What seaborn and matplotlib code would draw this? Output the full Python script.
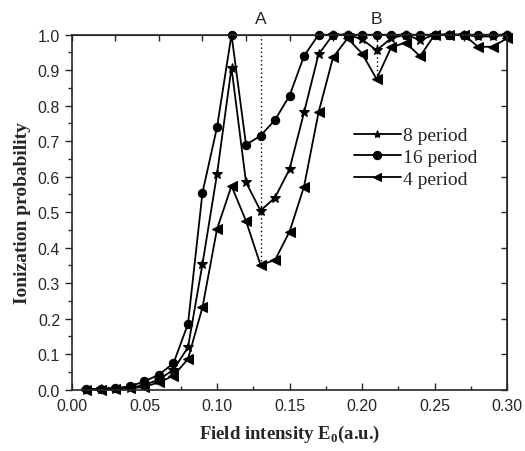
import numpy as np
import pandas as pd
import matplotlib
matplotlib.use("Agg")
import matplotlib.pyplot as plt
import seaborn as sns

# field intensity E0 (a.u.)
field = [0.01, 0.02, 0.03, 0.04, 0.05, 0.06, 0.07, 0.08, 0.09, 0.10,
         0.11, 0.12, 0.13, 0.14, 0.15, 0.16, 0.17, 0.18, 0.19, 0.20,
         0.21, 0.22, 0.23, 0.24, 0.25, 0.26, 0.27, 0.28, 0.29, 0.30]

prob_8 = [0.0, 0.001, 0.002, 0.005, 0.013, 0.028, 0.056, 0.119, 0.354, 0.607,
          0.907, 0.584, 0.504, 0.541, 0.621, 0.781, 0.945, 1.0, 1.0, 0.987,
          0.956, 0.99, 1.0, 0.985, 1.0, 1.0, 1.0, 0.995, 0.995, 1.0]
prob_16 = [0.001, 0.002, 0.004, 0.009, 0.023, 0.042, 0.074, 0.185, 0.555, 0.739,
           1.0, 0.69, 0.715, 0.76, 0.828, 0.94, 1.0, 1.0, 1.0, 1.0,
           1.0, 1.0, 1.0, 1.0, 1.0, 1.0, 1.0, 1.0, 1.0, 1.0]
prob_4 = [0.0, 0.0, 0.001, 0.003, 0.008, 0.02, 0.039, 0.086, 0.232, 0.452,
          0.574, 0.475, 0.351, 0.365, 0.445, 0.572, 0.781, 0.936, 0.99, 0.947,
          0.875, 0.964, 0.978, 0.939, 1.0, 1.0, 1.0, 0.966, 0.966, 0.99]

series = ["8 period", "16 period", "4 period"]
marks = {"8 period": "*", "16 period": "o", "4 period": "<"}
msize = {"8 period": 7.5, "16 period": 6, "4 period": 6.5}
points = {"A": 0.13, "B": 0.21}

df = pd.concat([
    pd.DataFrame({"E0": field, "P": prob_8, "period": "8 period"}),
    pd.DataFrame({"E0": field, "P": prob_16, "period": "16 period"}),
    pd.DataFrame({"E0": field, "P": prob_4, "period": "4 period"}),
])

sns.set_style("ticks")
plt.rcParams["font.family"] = ["Liberation Sans", "DejaVu Sans"]
plt.rcParams["mathtext.fontset"] = "custom"
plt.rcParams["mathtext.rm"] = "Liberation Serif:bold"
plt.rcParams["mathtext.bf"] = "Liberation Serif:bold"

fig = plt.figure(figsize=(5.25, 4.52), dpi=100)
ax = fig.add_axes([0.137, 0.136, 0.829, 0.785])

sns.lineplot(data=df, x="E0", y="P", hue="period", style="period",
             hue_order=series, style_order=series,
             palette=["black"] * 3, markers=marks, dashes=False,
             markeredgecolor="black", linewidth=1.3,
             clip_on=False, ax=ax)
for ln, name in zip(ax.lines[:3], series):
    ln.set_markersize(msize[name])

# dotted markers at the dips
for lab, xv in points.items():
    i = field.index(xv)
    ax.vlines(xv, prob_4[i], 1.0, colors="black", linestyles=(0, (1, 2)), linewidth=1)
    ax.text(xv, 1.025, lab, ha="center", va="bottom", fontsize=12.5,
            transform=ax.get_xaxis_transform())

ax.set_xlim(0, 0.30)
ax.set_ylim(0, 1.0)
ax.set_xticks(np.arange(0, 0.301, 0.05))
ax.set_xticks(np.arange(0.025, 0.3, 0.05), minor=True)
ax.set_yticks(np.arange(0, 1.01, 0.1))
ax.set_yticks(np.arange(0.05, 1.0, 0.1), minor=True)
ax.xaxis.set_major_formatter(matplotlib.ticker.FormatStrFormatter("%.2f"))
ax.yaxis.set_major_formatter(matplotlib.ticker.FormatStrFormatter("%.1f"))
ax.tick_params(axis="x", direction="in", length=5, width=1, labelsize=11.5, pad=6)
ax.tick_params(axis="x", which="minor", direction="in", length=3, width=1)
ax.tick_params(axis="y", direction="out", length=5, width=1, labelsize=11.5)
ax.tick_params(axis="y", which="minor", direction="out", length=3, width=1)
for s in ax.spines.values():
    s.set_linewidth(1.2)

top = ax.secondary_xaxis("top")
top.set_xticks(np.arange(0, 0.301, 0.03))
top.tick_params(direction="in", length=4, width=1, labeltop=False)
right = ax.secondary_yaxis("right")
right.set_yticks(np.arange(0, 1.01, 0.1))
right.tick_params(direction="in", length=4, width=1, labelright=False)

ax.set_xlabel(r"Field intensity E$_{0}$(a.u.)", fontsize=13.5, fontweight="bold",
              family="Liberation Serif", labelpad=7)
ax.set_ylabel("Ionization probability", fontsize=14, fontweight="bold",
              family="Liberation Serif", labelpad=5)

leg = ax.legend(loc="upper left", bbox_to_anchor=(0.608, 0.79), frameon=False,
                prop={"family": "Liberation Serif", "size": 14},
                handlelength=2.4, handletextpad=0.1, labelspacing=0.22)

fig.savefig("out.png", dpi=100)
